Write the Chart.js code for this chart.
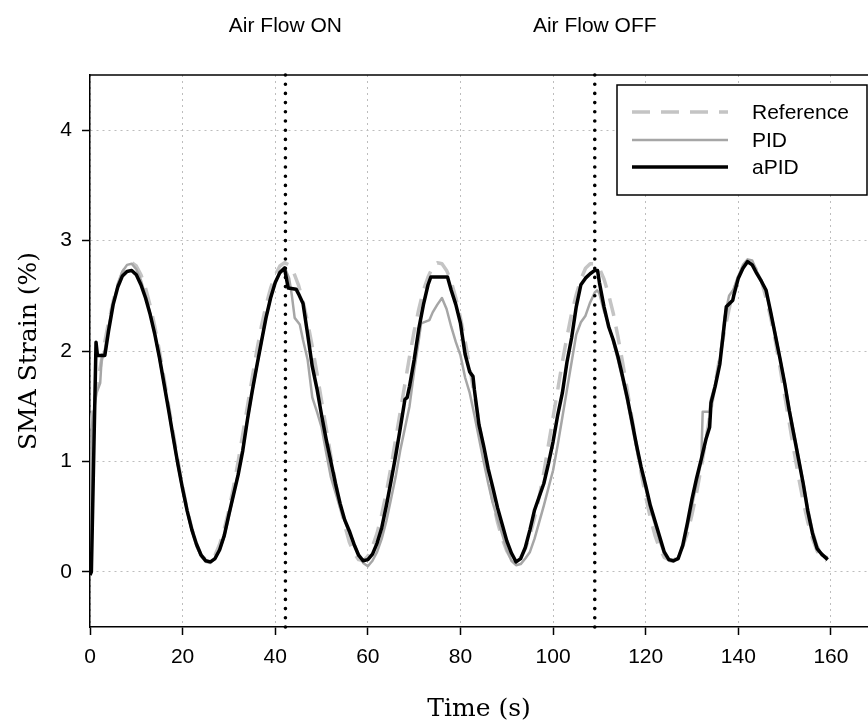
<!DOCTYPE html>
<html>
<head>
<meta charset="utf-8">
<script src="https://cdn.jsdelivr.net/npm/chart.js@4.4.1/dist/chart.umd.min.js"></script>
<style>
  html, body { margin: 0; padding: 0; background: #fff; }
  canvas { display: block; }
</style>
</head>
<body>
<canvas id="strainChart" width="868" height="724"></canvas>
<script>
// reference strain, sampled every second
const refTime = [
  0, 1, 2, 3, 4, 5, 6, 7, 8, 9,
  10, 11, 12, 13, 14, 15, 16, 17, 18, 19,
  20, 21, 22, 23, 24, 25, 26, 27, 28, 29,
  30, 31, 32, 33, 34, 35, 36, 37, 38, 39,
  40, 41, 42, 43, 44, 45, 46, 47, 48, 49,
  50, 51, 52, 53, 54, 55, 56, 57, 58, 59,
  60, 61, 62, 63, 64, 65, 66, 67, 68, 69,
  70, 71, 72, 73, 74, 75, 76, 77, 78, 79,
  80, 81, 82, 83, 84, 85, 86, 87, 88, 89,
  90, 91, 92, 93, 94, 95, 96, 97, 98, 99,
  100, 101, 102, 103, 104, 105, 106, 107, 108, 109,
  110, 111, 112, 113, 114, 115, 116, 117, 118, 119,
  120, 121, 122, 123, 124, 125, 126, 127, 128, 129,
  130, 131, 132, 133, 134, 135, 136, 137, 138, 139,
  140, 141, 142, 143, 144, 145, 146, 147, 148, 149,
  150, 151, 152, 153, 154, 155, 156, 157, 158, 159
];
const refStrain = [
  1.30, 1.55, 1.80, 2.04, 2.26, 2.45, 2.60, 2.71, 2.78, 2.80,
  2.77, 2.69, 2.57, 2.41, 2.22, 2.00, 1.75, 1.50, 1.25, 1.00,
  0.77, 0.56, 0.39, 0.25, 0.15, 0.11, 0.11, 0.15, 0.25, 0.39,
  0.56, 0.77, 1.00, 1.25, 1.50, 1.75, 2.00, 2.22, 2.41, 2.57,
  2.69, 2.77, 2.80, 2.78, 2.71, 2.60, 2.45, 2.26, 2.04, 1.80,
  1.55, 1.30, 1.05, 0.81, 0.60, 0.42, 0.27, 0.17, 0.11, 0.10,
  0.14, 0.23, 0.35, 0.52, 0.72, 0.95, 1.20, 1.45, 1.70, 1.95,
  2.18, 2.38, 2.55, 2.67, 2.76, 2.80, 2.79, 2.73, 2.63, 2.48,
  2.30, 2.09, 1.85, 1.60, 1.35, 1.10, 0.86, 0.64, 0.45, 0.30,
  0.19, 0.12, 0.10, 0.13, 0.21, 0.33, 0.49, 0.68, 0.90, 1.15,
  1.40, 1.65, 1.90, 2.13, 2.34, 2.51, 2.65, 2.75, 2.79, 2.79,
  2.75, 2.65, 2.51, 2.34, 2.13, 1.90, 1.65, 1.40, 1.15, 0.90,
  0.68, 0.49, 0.33, 0.21, 0.13, 0.11, 0.10, 0.14, 0.23, 0.35,
  0.52, 0.72, 0.95, 1.20, 1.45, 1.70, 1.95, 2.18, 2.38, 2.55,
  2.67, 2.76, 2.80, 2.79, 2.73, 2.63, 2.48, 2.30, 2.09, 1.85,
  1.60, 1.35, 1.10, 0.86, 0.64, 0.45, 0.30, 0.19, 0.12, 0.10
];

// PID response
const pidTime = [
  0, 0.35, 1.4, 2.2, 2.5, 3.2, 4, 5, 6, 7,
  8, 9, 10, 11, 12, 13, 14, 15, 16, 17,
  18, 19, 20, 21, 22, 23, 24, 25, 26, 27,
  28, 29, 30, 31, 32, 33, 34, 35, 36, 37,
  38, 39, 40, 41, 42, 43, 43.6, 44.2, 45.3, 46,
  47, 48, 49, 50, 51, 52, 53, 54, 55, 56,
  57, 58, 59, 60, 61, 62, 63, 64, 65, 66,
  67, 68, 69, 70, 71, 71.5, 73.3, 74, 75, 76,
  77, 78, 79, 80, 81, 82, 83, 84, 85, 86,
  87, 88, 89, 90, 91, 92, 93, 94, 95, 96,
  97, 98, 99, 100, 101, 102, 103, 104, 105, 106,
  107, 108, 109, 109.5, 110, 111, 112, 113, 114, 115,
  116, 117, 118, 119, 120, 121, 122, 123, 124, 125,
  126, 127, 128, 129, 130, 131, 132, 132.3, 133.8, 134,
  135, 136, 137, 138, 139, 140, 141, 142, 143, 144,
  145, 146, 147, 148, 149, 150, 151, 152, 153, 154,
  155, 156, 157, 158, 159.3
];
const pidStrain = [
  0.00, 1.31, 1.62, 1.71, 1.92, 2.01, 2.22, 2.43, 2.60, 2.72,
  2.78, 2.79, 2.74, 2.64, 2.50, 2.34, 2.15, 1.93, 1.70, 1.46,
  1.20, 0.96, 0.74, 0.54, 0.37, 0.23, 0.14, 0.09, 0.08, 0.12,
  0.20, 0.32, 0.50, 0.70, 0.90, 1.12, 1.38, 1.62, 1.85, 2.08,
  2.30, 2.48, 2.62, 2.72, 2.76, 2.66, 2.50, 2.30, 2.24, 2.10,
  1.92, 1.58, 1.45, 1.31, 1.08, 0.86, 0.72, 0.58, 0.46, 0.35,
  0.26, 0.16, 0.08, 0.05, 0.10, 0.18, 0.30, 0.46, 0.66, 0.86,
  1.10, 1.30, 1.50, 1.82, 2.10, 2.25, 2.28, 2.35, 2.42, 2.48,
  2.38, 2.22, 2.08, 1.96, 1.76, 1.62, 1.42, 1.21, 1.00, 0.80,
  0.62, 0.48, 0.34, 0.20, 0.10, 0.06, 0.07, 0.12, 0.18, 0.30,
  0.45, 0.60, 0.76, 0.92, 1.15, 1.40, 1.65, 1.90, 2.15, 2.26,
  2.32, 2.44, 2.53, 2.55, 2.52, 2.36, 2.24, 2.08, 1.92, 1.74,
  1.55, 1.33, 1.12, 0.92, 0.75, 0.57, 0.43, 0.28, 0.16, 0.10,
  0.09, 0.13, 0.23, 0.40, 0.60, 0.80, 1.00, 1.45, 1.45, 1.55,
  1.70, 1.92, 2.30, 2.50, 2.56, 2.68, 2.78, 2.83, 2.82, 2.72,
  2.64, 2.53, 2.35, 2.16, 1.94, 1.72, 1.48, 1.26, 1.04, 0.82,
  0.58, 0.38, 0.24, 0.15, 0.13
];

// adaptive PID response
const apidTime = [
  0, 0.3, 1.3, 1.6, 3.2, 3.5, 4, 5, 6, 7,
  8, 9, 10, 11, 12, 13, 14, 15, 16, 17,
  18, 19, 20, 21, 22, 23, 24, 25, 26, 27,
  28, 29, 30, 31, 32, 33, 34, 35, 36, 37,
  38, 39, 40, 41, 42, 42.8, 44.5, 45, 46, 47,
  48, 49, 50, 51, 52, 53, 54, 55, 56, 57,
  58, 59, 60, 61, 62, 63, 64, 65, 66, 67,
  68, 68.5, 69, 70, 71, 72, 73, 73.6, 77.2, 78,
  79, 80, 81, 82, 82.7, 83, 84, 85, 86, 87,
  88, 89, 90, 91, 92, 93, 94, 95, 96, 97,
  98, 99, 100, 101, 102, 103, 104, 105, 106, 107,
  108, 109, 109.6, 110, 111, 112, 113, 114, 115, 116,
  117, 118, 119, 120, 121, 122, 123, 124, 125, 126,
  127, 128, 129, 130, 131, 132, 133, 133.8, 134.1, 135,
  136, 137, 137.4, 138.8, 139, 140, 141, 142, 143, 144,
  145, 146, 147, 148, 149, 150, 151, 152, 153, 154,
  155, 156, 157, 158, 159.3
];
const apidStrain = [
  -0.03, 0.00, 2.08, 1.96, 1.96, 2.04, 2.18, 2.42, 2.58, 2.68,
  2.72, 2.73, 2.69, 2.60, 2.48, 2.33, 2.15, 1.94, 1.70, 1.46,
  1.21, 0.97, 0.75, 0.55, 0.38, 0.25, 0.15, 0.10, 0.09, 0.12,
  0.20, 0.33, 0.52, 0.70, 0.88, 1.10, 1.38, 1.63, 1.86, 2.08,
  2.30, 2.48, 2.62, 2.71, 2.75, 2.57, 2.56, 2.52, 2.43, 2.15,
  1.86, 1.66, 1.42, 1.20, 1.00, 0.80, 0.62, 0.47, 0.37, 0.25,
  0.15, 0.10, 0.11, 0.16, 0.26, 0.40, 0.60, 0.82, 1.05, 1.30,
  1.56, 1.58, 1.68, 1.92, 2.20, 2.42, 2.60, 2.67, 2.67, 2.55,
  2.42, 2.25, 1.97, 1.81, 1.77, 1.65, 1.33, 1.14, 0.93, 0.76,
  0.58, 0.43, 0.28, 0.17, 0.09, 0.12, 0.22, 0.38, 0.56, 0.68,
  0.80, 0.98, 1.18, 1.42, 1.62, 1.90, 2.12, 2.40, 2.60, 2.66,
  2.70, 2.73, 2.73, 2.62, 2.40, 2.22, 2.10, 1.95, 1.77, 1.58,
  1.37, 1.15, 0.95, 0.78, 0.60, 0.46, 0.32, 0.18, 0.11, 0.10,
  0.12, 0.24, 0.44, 0.66, 0.85, 1.02, 1.20, 1.31, 1.53, 1.68,
  1.88, 2.25, 2.40, 2.46, 2.50, 2.66, 2.75, 2.81, 2.78, 2.70,
  2.63, 2.55, 2.35, 2.14, 1.93, 1.71, 1.46, 1.24, 1.02, 0.80,
  0.55, 0.35, 0.21, 0.16, 0.11
];

const xTickValues = [0, 20, 40, 60, 80, 100, 120, 140, 160];
const yTickValues = [0, 1, 2, 3, 4];

// times where the air flow was switched
const airFlowTimes = [42.2, 109];
const airFlowLabels = ['Air Flow ON', 'Air Flow OFF'];

const SANS = '"Liberation Sans", Arial, sans-serif';
const SERIF = '"DejaVu Serif", serif';

function toPoints(times, values) {
  return times.map((t, i) => ({ x: t, y: values[i] }));
}

const chartDecorations = {
  id: 'chartDecorations',
  afterDatasetsDraw(chart) {
    const { ctx, chartArea, scales } = chart;
    ctx.save();
    ctx.strokeStyle = '#000';
    ctx.lineWidth = 3.6;
    ctx.lineCap = 'round';
    ctx.setLineDash([0, 9.2]);
    airFlowTimes.forEach(t => {
      const x = scales.x.getPixelForValue(t);
      ctx.beginPath();
      ctx.moveTo(x, chartArea.bottom);
      ctx.lineTo(x, chartArea.top);
      ctx.stroke();
    });
    ctx.restore();
  },
  afterDraw(chart) {
    const { ctx, chartArea, scales } = chart;
    ctx.save();

    // top frame line
    ctx.strokeStyle = '#000';
    ctx.lineWidth = 1.5;
    ctx.beginPath();
    ctx.moveTo(chartArea.left, chartArea.top);
    ctx.lineTo(chartArea.right, chartArea.top);
    ctx.stroke();

    // air flow captions above the plot
    ctx.fillStyle = '#000';
    ctx.font = '21px ' + SANS;
    ctx.textAlign = 'center';
    ctx.textBaseline = 'middle';
    airFlowTimes.forEach((t, i) => {
      ctx.fillText(airFlowLabels[i], scales.x.getPixelForValue(t), 26);
    });

    // legend box
    const box = { x: 617, y: 85, w: 250, h: 110 };
    ctx.fillStyle = '#fff';
    ctx.fillRect(box.x, box.y, box.w, box.h);
    ctx.strokeStyle = '#000';
    ctx.lineWidth = 1.5;
    ctx.strokeRect(box.x, box.y, box.w, box.h);

    const rows = [112, 140, 167];
    chart.data.datasets.forEach((ds, i) => {
      ctx.strokeStyle = ds.borderColor;
      ctx.lineWidth = ds.borderWidth;
      ctx.setLineDash(ds.borderDash || []);
      ctx.beginPath();
      ctx.moveTo(632, rows[i]);
      ctx.lineTo(728, rows[i]);
      ctx.stroke();
      ctx.setLineDash([]);
      ctx.fillStyle = '#000';
      ctx.textAlign = 'left';
      ctx.fillText(ds.label, 752, rows[i] + 1);
    });
    ctx.restore();
  }
};

new Chart(document.getElementById('strainChart'), {
  type: 'line',
  data: {
    datasets: [
      {
        label: 'Reference',
        data: toPoints(refTime, refStrain),
        borderColor: '#c4c4c4',
        borderWidth: 3.5,
        borderDash: [18, 11],
        order: 3
      },
      {
        label: 'PID',
        data: toPoints(pidTime, pidStrain),
        borderColor: '#a6a6a6',
        borderWidth: 2.5,
        order: 2
      },
      {
        label: 'aPID',
        data: toPoints(apidTime, apidStrain),
        borderColor: '#000',
        borderWidth: 3.5,
        order: 1
      }
    ]
  },
  options: {
    responsive: false,
    animation: false,
    devicePixelRatio: 1,
    layout: { padding: { top: 75, left: 0, right: 0, bottom: 0 } },
    elements: {
      point: { radius: 0 },
      line: { tension: 0, borderJoinStyle: 'round', borderCapStyle: 'butt' }
    },
    plugins: {
      legend: { display: false },
      tooltip: { enabled: false }
    },
    scales: {
      x: {
        type: 'linear',
        min: 0,
        max: 168,
        afterBuildTicks: scale => { scale.ticks = xTickValues.map(v => ({ value: v })); },
        afterFit: scale => { scale.height = 97; },
        grid: {
          color: '#bdbdbd',
          lineWidth: 1,
          tickLength: 8,
          tickColor: '#000',
          tickWidth: 1.5,
          tickBorderDash: []
        },
        border: { display: true, color: '#000', width: 1.5, dash: [2, 4] },
        ticks: {
          color: '#000',
          font: { family: SANS, size: 21 },
          padding: 10,
          maxRotation: 0,
          autoSkip: false
        },
        title: {
          display: true,
          text: 'Time (s)',
          color: '#000',
          font: { family: SERIF, size: 25 },
          padding: { top: 0, bottom: 0 }
        }
      },
      y: {
        type: 'linear',
        min: -0.5,
        max: 4.5,
        afterBuildTicks: scale => { scale.ticks = yTickValues.map(v => ({ value: v })); },
        afterFit: scale => { scale.width = 90; },
        grid: {
          color: '#bdbdbd',
          lineWidth: 1,
          tickLength: 8,
          tickColor: '#000',
          tickWidth: 1.5,
          tickBorderDash: []
        },
        border: { display: true, color: '#000', width: 1.5, dash: [2, 4] },
        ticks: {
          color: '#000',
          font: { family: SANS, size: 21 },
          padding: 10
        },
        title: {
          display: true,
          text: 'SMA Strain (%)',
          color: '#000',
          font: { family: SERIF, size: 25 },
          padding: { top: 14, bottom: 0 }
        }
      }
    }
  },
  plugins: [chartDecorations]
});
</script>
</body>
</html>
